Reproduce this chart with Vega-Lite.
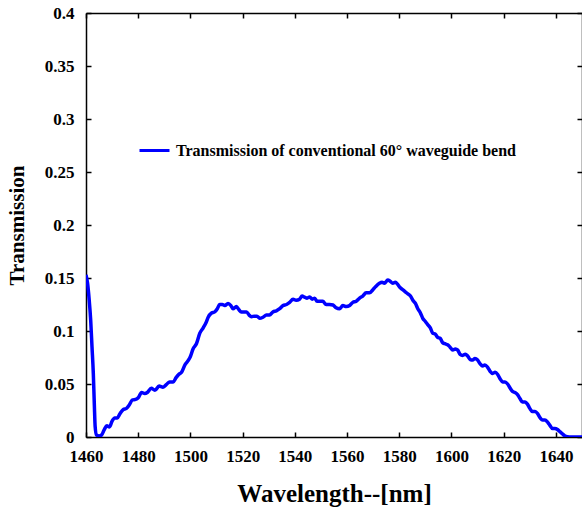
{
  "$schema": "https://vega.github.io/schema/vega-lite/v6.json",
  "autosize": "none",
  "width": 496,
  "height": 424,
  "padding": {"left": 86, "top": 13, "right": 0, "bottom": 73},
  "background": "white",
  "config": {
    "view": {"stroke": null},
    "axis": {
      "labelFont": "Liberation Serif", "labelFontWeight": "bold", "labelFontSize": 17, "labelColor": "black",
      "titleFont": "Liberation Serif", "titleFontWeight": "bold", "titleColor": "black",
      "domainColor": "black", "domainWidth": 1.5, "tickColor": "black", "tickWidth": 1.5, "tickSize": -5,
      "grid": false
    }
  },
  "data": {"values": [
    {"x":1460,"y":0.153},{"x":1460.6,"y":0.145},{"x":1461.2,"y":0.13},{"x":1461.8,"y":0.11},{"x":1462.3,"y":0.085},
    {"x":1462.8,"y":0.06},{"x":1463.2,"y":0.03},{"x":1463.5,"y":0.01},{"x":1464,"y":0.002},{"x":1465,"y":0.001},
    {"x":1466,"y":0.002},{"x":1467,"y":0.007},{"x":1468,"y":0.0105},{"x":1469,"y":0.0095},{"x":1470,"y":0.015},
    {"x":1471,"y":0.018},{"x":1472,"y":0.018},{"x":1473,"y":0.022},{"x":1474.3,"y":0.026},{"x":1475.5,"y":0.027},
    {"x":1476.5,"y":0.03},{"x":1477.8,"y":0.035},{"x":1479,"y":0.0355},{"x":1480,"y":0.037},{"x":1481.3,"y":0.042},
    {"x":1482.5,"y":0.041},{"x":1483.5,"y":0.042},{"x":1485,"y":0.046},{"x":1486.4,"y":0.044},{"x":1488,"y":0.048},
    {"x":1489.5,"y":0.047},{"x":1491,"y":0.05},{"x":1492,"y":0.052},{"x":1493.4,"y":0.052},{"x":1494.5,"y":0.056},
    {"x":1495.5,"y":0.059},{"x":1496.6,"y":0.061},{"x":1497.9,"y":0.068},{"x":1499.1,"y":0.072},{"x":1500,"y":0.076},
    {"x":1501,"y":0.083},{"x":1502.3,"y":0.088},{"x":1503.6,"y":0.098},{"x":1504.9,"y":0.103},{"x":1506,"y":0.108},
    {"x":1506.8,"y":0.113},{"x":1508.1,"y":0.117},{"x":1509.3,"y":0.118},{"x":1510.3,"y":0.121},{"x":1511.2,"y":0.125},
    {"x":1512.2,"y":0.125},{"x":1513.2,"y":0.124},{"x":1514.4,"y":0.126},{"x":1515.5,"y":0.124},{"x":1516.3,"y":0.121},
    {"x":1517.6,"y":0.123},{"x":1518.6,"y":0.12},{"x":1519.5,"y":0.118},{"x":1520.5,"y":0.118},{"x":1521.5,"y":0.118},
    {"x":1522.5,"y":0.115},{"x":1523.4,"y":0.1135},{"x":1524.5,"y":0.114},{"x":1525.5,"y":0.114},{"x":1526.5,"y":0.112},
    {"x":1527.8,"y":0.113},{"x":1529.1,"y":0.115},{"x":1530.3,"y":0.115},{"x":1531.6,"y":0.118},{"x":1532.9,"y":0.119},
    {"x":1534.2,"y":0.121},{"x":1535.5,"y":0.124},{"x":1536.8,"y":0.125},{"x":1538,"y":0.127},{"x":1539.3,"y":0.13},
    {"x":1540.5,"y":0.129},{"x":1541.8,"y":0.13},{"x":1542.8,"y":0.133},{"x":1543.7,"y":0.132},{"x":1544.7,"y":0.131},
    {"x":1545.7,"y":0.132},{"x":1546.7,"y":0.13},{"x":1547.6,"y":0.131},{"x":1548.5,"y":0.128},{"x":1549.5,"y":0.128},
    {"x":1550.7,"y":0.128},{"x":1552,"y":0.125},{"x":1553.3,"y":0.125},{"x":1554.6,"y":0.1245},{"x":1555.8,"y":0.122},
    {"x":1557.1,"y":0.121},{"x":1558.4,"y":0.124},{"x":1559.7,"y":0.123},{"x":1561,"y":0.124},{"x":1562.2,"y":0.127},
    {"x":1563.5,"y":0.128},{"x":1564.8,"y":0.131},{"x":1566,"y":0.133},{"x":1567.3,"y":0.136},{"x":1568.6,"y":0.136},
    {"x":1569.9,"y":0.139},{"x":1571,"y":0.142},{"x":1572.4,"y":0.145},{"x":1573.4,"y":0.146},{"x":1574.3,"y":0.145},
    {"x":1575.6,"y":0.148},{"x":1576.5,"y":0.147},{"x":1577.5,"y":0.145},{"x":1578.5,"y":0.146},{"x":1579.4,"y":0.144},
    {"x":1580.3,"y":0.141},{"x":1581.3,"y":0.139},{"x":1582.3,"y":0.137},{"x":1583.3,"y":0.135},{"x":1584.3,"y":0.133},
    {"x":1585.2,"y":0.129},{"x":1586.2,"y":0.126},{"x":1587.1,"y":0.121},{"x":1588.1,"y":0.117},{"x":1589,"y":0.112},
    {"x":1590,"y":0.109},{"x":1590.9,"y":0.106},{"x":1591.9,"y":0.103},{"x":1592.8,"y":0.098},{"x":1593.8,"y":0.097},
    {"x":1594.7,"y":0.094},{"x":1595.7,"y":0.093},{"x":1596.6,"y":0.089},{"x":1597.5,"y":0.088},{"x":1598.5,"y":0.087},
    {"x":1599.4,"y":0.085},{"x":1600.5,"y":0.082},{"x":1601.5,"y":0.083},{"x":1602.4,"y":0.082},{"x":1603.3,"y":0.078},
    {"x":1604.3,"y":0.077},{"x":1605.3,"y":0.078},{"x":1606.2,"y":0.0764},{"x":1607.2,"y":0.073},{"x":1608.1,"y":0.0726},
    {"x":1609,"y":0.074},{"x":1610,"y":0.0726},{"x":1611,"y":0.069},{"x":1611.9,"y":0.067},{"x":1612.8,"y":0.068},
    {"x":1613.8,"y":0.066},{"x":1614.8,"y":0.062},{"x":1615.8,"y":0.06},{"x":1616.7,"y":0.061},{"x":1617.7,"y":0.059},
    {"x":1618.6,"y":0.055},{"x":1619.6,"y":0.052},{"x":1620.5,"y":0.052},{"x":1621.5,"y":0.05},{"x":1622.5,"y":0.046},
    {"x":1623.4,"y":0.043},{"x":1624.3,"y":0.042},{"x":1625.3,"y":0.04},{"x":1626.3,"y":0.036},{"x":1627.2,"y":0.033},
    {"x":1628.2,"y":0.033},{"x":1629.1,"y":0.031},{"x":1630,"y":0.027},{"x":1631,"y":0.024},{"x":1632,"y":0.024},
    {"x":1633,"y":0.022},{"x":1634,"y":0.018},{"x":1634.9,"y":0.016},{"x":1635.8,"y":0.016},{"x":1636.8,"y":0.014},
    {"x":1637.7,"y":0.011},{"x":1638.7,"y":0.008},{"x":1639.6,"y":0.008},{"x":1640.6,"y":0.007},{"x":1641.5,"y":0.005},
    {"x":1642.5,"y":0.003},{"x":1643.5,"y":0.001},{"x":1644.4,"y":0.0003},{"x":1646,"y":0},{"x":1648,"y":0},{"x":1650,"y":0}
  ]},
  "layer": [
    {
      "mark": {"type": "line", "strokeWidth": 3.5, "clip": true, "interpolate": "monotone"},
      "encoding": {
        "x": {"field": "x", "type": "quantitative", "scale": {"domain": [1460, 1650], "nice": false},
              "axis": {"orient": "bottom", "title": "Wavelength--[nm]", "titleFontSize": 25, "titlePadding": 17,
                       "values": [1460,1480,1500,1520,1540,1560,1580,1600,1620,1640], "format": "d", "labelPadding": 16, "labelFlush": false}},
        "y": {"field": "y", "type": "quantitative", "scale": {"domain": [0, 0.4], "nice": false},
              "axis": {"orient": "left", "title": "Transmission", "titleFontSize": 21, "titlePadding": 17,
                       "values": [0,0.05,0.1,0.15,0.2,0.25,0.3,0.35,0.4], "format": "~g", "labelPadding": 17}},
        "color": {"datum": "Transmission of conventional 60° waveguide bend", "type": "nominal",
                  "scale": {"range": ["#0000ff"]},
                  "legend": {"orient": "none", "legendX": 52, "legendY": 121, "title": null,
                             "symbolType": "stroke", "symbolSize": 900, "symbolStrokeWidth": 3,
                             "labelFont": "Liberation Serif", "labelFontWeight": "bold", "labelFontSize": 16,
                             "labelColor": "black", "labelOffset": 5, "labelLimit": 500}}
      }
    },
    {
      "mark": {"type": "line", "opacity": 0},
      "encoding": {
        "x": {"field": "x", "type": "quantitative", "scale": {"domain": [1460, 1650], "nice": false},
              "axis": {"orient": "top", "title": null, "labels": false,
                       "values": [1460,1480,1500,1520,1540,1560,1580,1600,1620,1640]}},
        "y": {"field": "y", "type": "quantitative", "scale": {"domain": [0, 0.4], "nice": false},
              "axis": {"orient": "right", "title": null, "labels": false,
                       "values": [0,0.05,0.1,0.15,0.2,0.25,0.3,0.35,0.4]}}
      }
    }
  ],
  "resolve": {"axis": {"x": "independent", "y": "independent"}}
}
